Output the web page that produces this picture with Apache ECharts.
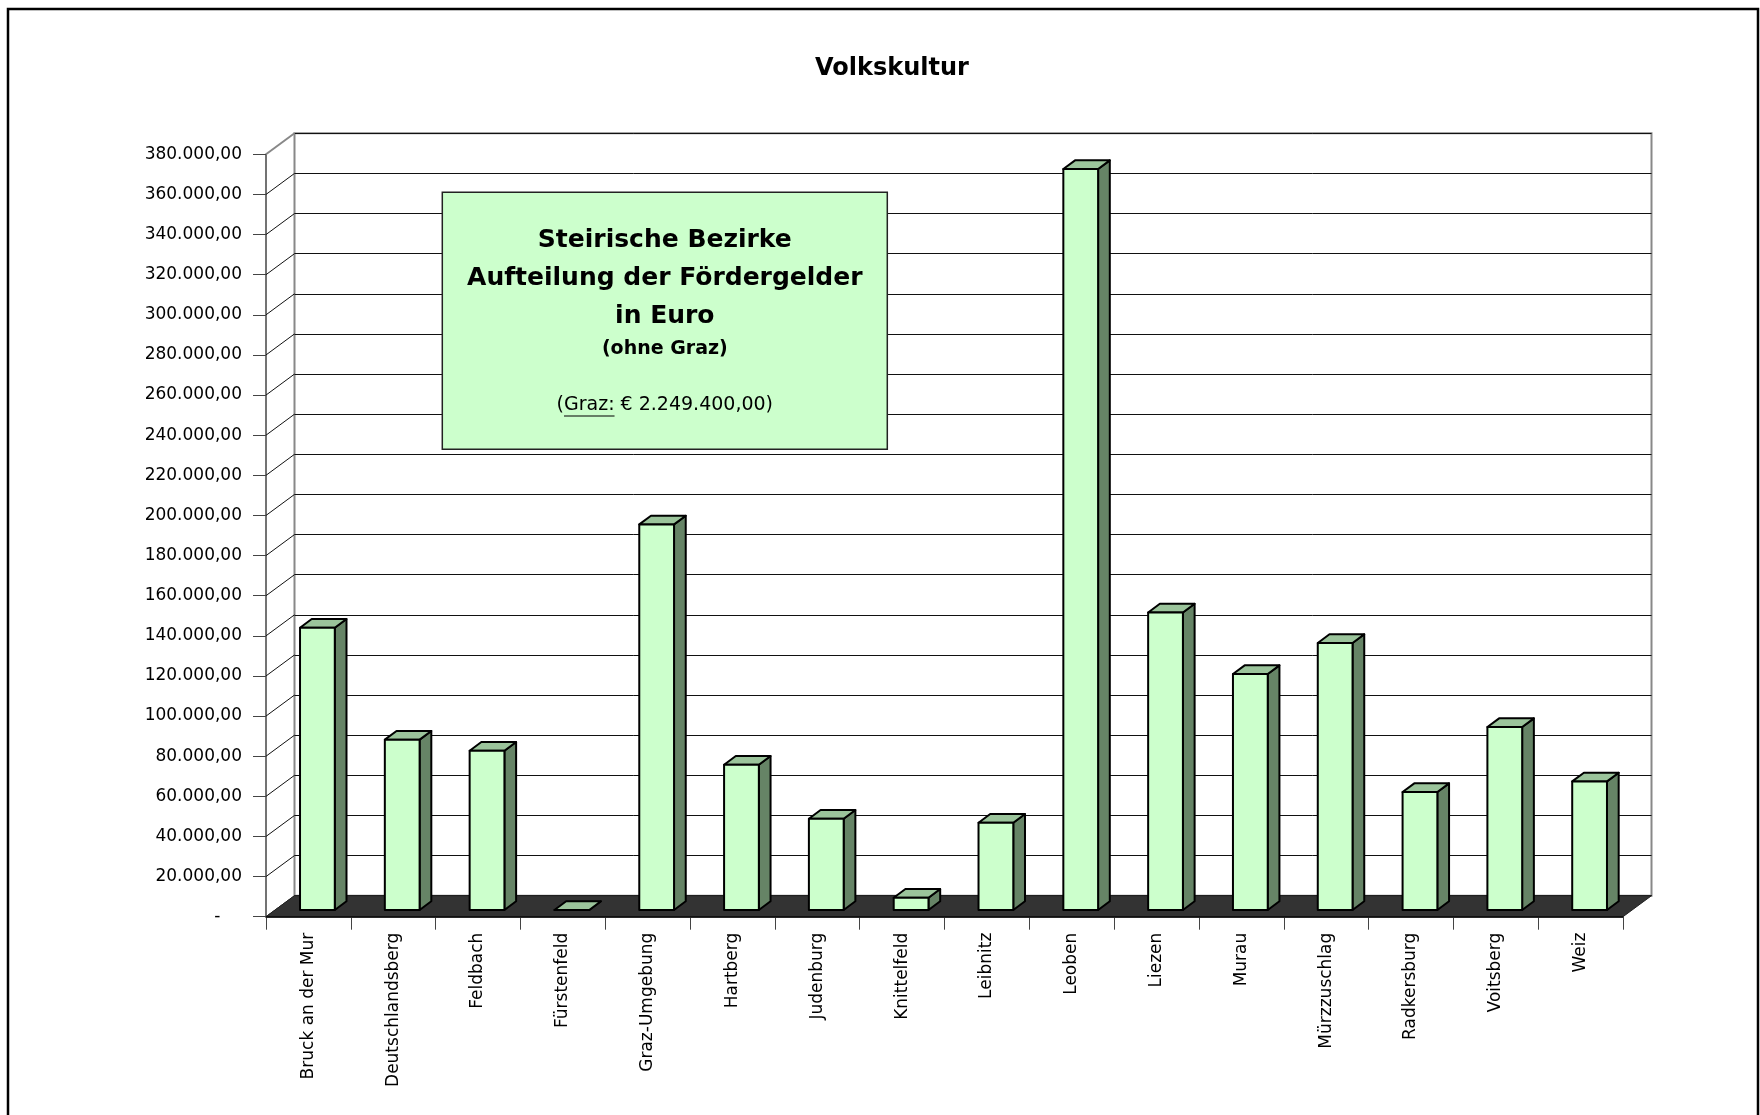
<!DOCTYPE html>
<html><head><meta charset="utf-8">
<script src="https://cdn.jsdelivr.net/npm/echarts@6/dist/echarts.min.js"></script>
<style>html,body{margin:0;padding:0;background:#fff}#c{width:1760px;height:1115px}</style>
</head><body><div id="c"></div>
<script>
// ---- data ----
const categories = ['Bruck an der Mur','Deutschlandsberg','Feldbach','Fürstenfeld','Graz-Umgebung','Hartberg','Judenburg','Knittelfeld','Leibnitz','Leoben','Liezen','Murau','Mürzzuschlag','Radkersburg','Voitsberg','Weiz'];
const values = [140700, 84900, 79400, 0, 192200, 72400, 45500, 6100, 43500, 369300, 148300, 117600, 133100, 58800, 91200, 64100];
const yMin = 0, yMax = 380000, yStep = 20000;
const titleText = 'Volkskultur';
const boxLines = ['Steirische Bezirke', 'Aufteilung der Fördergelder', 'in Euro', '(ohne Graz)'];
const grazPre = '(', grazLabel = 'Graz:', grazPost = ' € 2.249.400,00)';

// ---- geometry / style ----
const FONT = '"DejaVu Sans", Verdana, sans-serif';
const FRONT = {left: 266, top: 154.3, width: 1357, height: 762.4};
const DX = 28.5, DY = 21;
const BAR_RATIO = 0.41, OFF_X = 9, OFF_Y = 6.7, DEP_X = 11.7, DEP_Y = 8.7;
const C_FRONT = '#CCFFCC', C_TOP = '#9BC49B', C_SIDE = '#668466';

function fmt(v) {
  if (v === 0) return '-    ';
  return Math.round(v).toString().replace(/\B(?=(\d{3})+(?!\d))/g, '.') + ',00';
}

const tickVals = [];
for (let v = yMin; v <= yMax; v += yStep) tickVals.push([0, v]);

const chart = echarts.init(document.getElementById('c'), null, {renderer: 'canvas'});

function renderBar(params, api) {
  const i = api.value(0), v = api.value(1);
  const top = api.coord([i, v]);
  const base = api.coord([i, 0]);
  const band = api.size([1, 0])[0];
  const w = band * BAR_RATIO;
  const x0 = top[0] + OFF_X - w / 2, x1 = x0 + w;
  const yT = top[1] - OFF_Y, yB = base[1] - OFF_Y;
  const st = {stroke: '#000', lineWidth: 2, lineJoin: 'round'};
  return {type: 'group', children: [
    {type: 'polygon', shape: {points: [[x1, yB], [x1 + DEP_X, yB - DEP_Y], [x1 + DEP_X, yT - DEP_Y], [x1, yT]]}, style: Object.assign({fill: C_SIDE}, st)},
    {type: 'polygon', shape: {points: [[x0, yT], [x1, yT], [x1 + DEP_X, yT - DEP_Y], [x0 + DEP_X, yT - DEP_Y]]}, style: Object.assign({fill: C_TOP}, st)},
    {type: 'rect', shape: {x: x0, y: yT, width: w, height: yB - yT}, style: Object.assign({fill: C_FRONT}, st)}
  ]};
}

function renderWall(params, api) {
  const v = api.value(1);
  const p = api.coord([0, v]);
  const x = params.coordSys.x;
  const isTop = v === yMax;
  return {type: 'line', shape: {x1: x, y1: p[1], x2: x + DX, y2: p[1] - DY},
    style: {stroke: isTop ? '#888' : '#111', lineWidth: isTop ? 2 : 1}};
}

function renderFloor(params, api) {
  const cs = params.coordSys;
  const y0 = api.coord([0, 0])[1];
  const xl = cs.x, xr = cs.x + cs.width;
  return {type: 'group', children: [
    {type: 'polygon', shape: {points: [[xl, y0], [xr, y0], [xr + DX, y0 - DY], [xl + DX, y0 - DY]]},
      style: {fill: '#333333', stroke: '#222', lineWidth: 1}},
    {type: 'line', shape: {x1: xl, y1: y0, x2: xr, y2: y0}, style: {stroke: '#111', lineWidth: 1.5}}
  ]};
}

// underline position for "Graz:"
const cv = document.createElement('canvas').getContext('2d');
cv.font = '19px ' + FONT;
const wPre = cv.measureText(grazPre).width, wLab = cv.measureText(grazLabel).width;
const wAll = cv.measureText(grazPre + grazLabel + grazPost).width;
const boxCx = 664.8, grazY = 405.5;
const ulX0 = boxCx - wAll / 2 + wPre, ulX1 = ulX0 + wLab;

const boxTextY = [240.5, 278.5, 316.5, 349];
const boxSizes = [25, 25, 25, 19];

const graphics = [
  {type: 'rect', shape: {x: 8, y: 9, width: 1750, height: 1130}, style: {fill: 'none', stroke: '#000', lineWidth: 2.5}, z: 100, silent: true},
  {type: 'text', x: 892, y: 69, style: {text: titleText, font: 'bold 24px ' + FONT, fill: '#000', textAlign: 'center', textVerticalAlign: 'middle'}, z: 100},
  {type: 'rect', shape: {x: 442.3, y: 192.3, width: 445, height: 257}, style: {fill: '#CCFFCC', stroke: '#222', lineWidth: 1.5}, z: 100}
];
boxLines.forEach((t, k) => {
  graphics.push({type: 'text', x: boxCx, y: boxTextY[k], style: {text: t, font: 'bold ' + boxSizes[k] + 'px ' + FONT, fill: '#000', textAlign: 'center', textVerticalAlign: 'middle'}, z: 101});
});
graphics.push({type: 'text', x: boxCx, y: grazY, style: {text: grazPre + grazLabel + grazPost, font: '19px ' + FONT, fill: '#000', textAlign: 'center', textVerticalAlign: 'middle'}, z: 101});
graphics.push({type: 'line', shape: {x1: ulX0, y1: grazY + 10.5, x2: ulX1, y2: grazY + 10.5}, style: {stroke: '#000', lineWidth: 1.2}, z: 101});

const option = {
  animation: false,
  backgroundColor: '#fff',
  grid: [
    {left: FRONT.left, top: FRONT.top, width: FRONT.width, height: FRONT.height, show: false},
    {left: FRONT.left + DX, top: FRONT.top - DY, width: FRONT.width, height: FRONT.height, show: true, borderColor: '#888', borderWidth: 2, backgroundColor: 'transparent'}
  ],
  xAxis: [
    {type: 'category', gridIndex: 0, data: categories, boundaryGap: true,
      axisLine: {show: true, lineStyle: {color: '#111', width: 1.5}},
      axisTick: {show: true, length: 13, alignWithLabel: false, interval: 0, lineStyle: {color: '#444', width: 1}},
      axisLabel: {interval: 0, rotate: 90, margin: 16, color: '#000', fontFamily: FONT, fontSize: 17}},
    {type: 'category', gridIndex: 1, data: categories, show: false}
  ],
  yAxis: [
    {type: 'value', gridIndex: 0, min: yMin, max: yMax, interval: yStep,
      axisLine: {show: true, lineStyle: {color: '#444', width: 1.5}},
      axisTick: {show: true, length: 13, lineStyle: {color: '#444', width: 1}},
      splitLine: {show: false},
      axisLabel: {margin: 24, color: '#000', fontFamily: FONT, fontSize: 17, formatter: fmt}},
    {type: 'value', gridIndex: 1, min: yMin, max: yMax, interval: yStep,
      axisLine: {show: false}, axisTick: {show: false}, axisLabel: {show: false},
      splitLine: {show: true, lineStyle: {color: '#111', width: 1}}}
  ],
  series: [
    {type: 'custom', xAxisIndex: 0, yAxisIndex: 0, z: 1, clip: false, renderItem: renderWall, data: tickVals, silent: true},
    {type: 'custom', xAxisIndex: 0, yAxisIndex: 0, z: 2, clip: false, renderItem: renderFloor, data: [[0, 0]], silent: true},
    {type: 'custom', xAxisIndex: 0, yAxisIndex: 0, z: 3, clip: false, renderItem: renderBar,
      encode: {x: 0, y: 1}, data: values.map((v, i) => [i, v])}
  ],
  graphic: graphics
};
chart.setOption(option);
</script>
</body></html>
